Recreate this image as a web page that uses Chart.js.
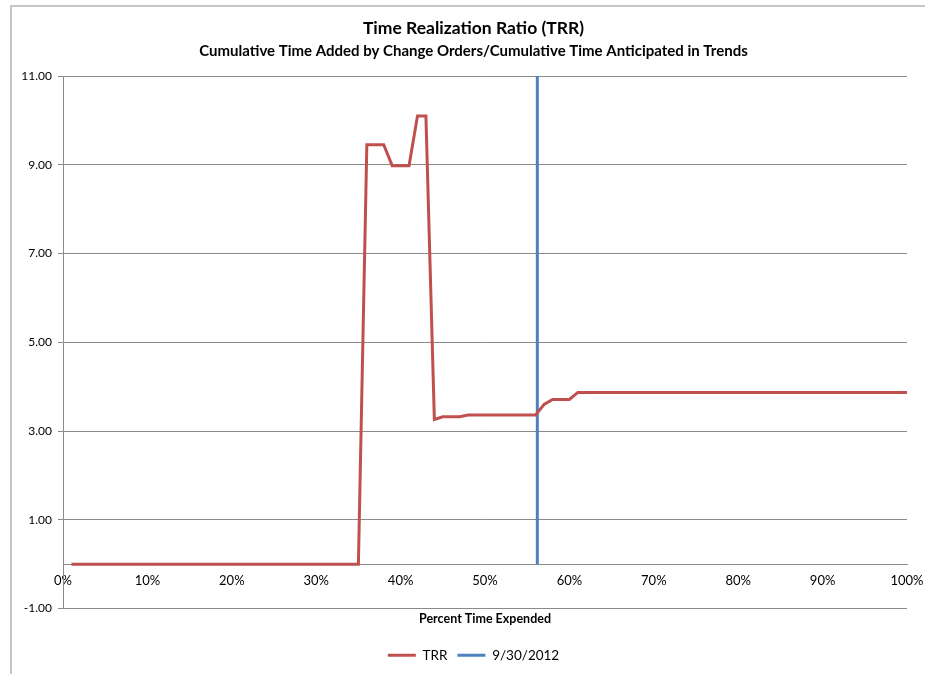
<!DOCTYPE html>
<html>
<head>
<meta charset="utf-8">
<script src="https://cdn.jsdelivr.net/npm/chart.js@4.4.0/dist/chart.umd.min.js"></script>
<style>
	html, body { margin: 0; padding: 0; background: #fff; overflow: hidden; }
	#frame {
		position: absolute; left: 10px; top: 5px; width: 940px; height: 700px;
		border-left: 2px solid #c6c6c6; border-top: 2px solid #c6c6c6;
	}
	#wrap { position: absolute; left: 0; top: 0; width: 925px; height: 674px; }
</style>
</head>
<body>
<div id="frame"></div>
<div id="wrap"><canvas id="trrchart"></canvas></div>
<script>
// percent of time expended (x) and TRR value at that point
var pctTime = [1, 35, 36, 38, 39, 41, 42, 43, 44, 45, 47, 48, 56, 57, 58, 60, 61, 100];
var trrValues = [0, 0, 9.45, 9.45, 8.98, 8.98, 10.1, 10.1, 3.26, 3.32, 3.32, 3.36, 3.36, 3.6, 3.71, 3.71, 3.87, 3.87];

// status date marker (9/30/2012)
var markerLabel = "9/30/2012";
var markerPct = [56.2, 56.2];
var markerY = [0, 11];

var yTicks = [-1, 1, 3, 5, 7, 9, 11];
var xTicks = [0, 10, 20, 30, 40, 50, 60, 70, 80, 90, 100];

var fontFam = "Lato, 'Open Sans', sans-serif";
var gridGray = "#8a8a8a";

function toPoints(xs, ys) {
	var pts = [];
	for (var i = 0; i < xs.length; i++) pts.push({ x: xs[i], y: ys[i] });
	return pts;
}

var trrChart = {
	type: 'line',
	data: {
		datasets: [
			{
				label: "TRR",
				data: toPoints(pctTime, trrValues),
				borderColor: "#c0504d",
				backgroundColor: "#c0504d",
				borderWidth: 3,
				pointRadius: 0,
				tension: 0,
			},
			{
				label: markerLabel,
				data: toPoints(markerPct, markerY),
				borderColor: "#4f81bd",
				backgroundColor: "#4f81bd",
				borderWidth: 3,
				pointRadius: 0,
			}
		]
	},
	options: {
		responsive: true,
		maintainAspectRatio: false,
		animation: false,
		// negative right padding + empty right axis: title/legend centre sits right of canvas centre like the original
		layout: { padding: { left: 0, right: -22, top: 0, bottom: 2 } },
		plugins: {
			title: {
				display: true,
				text: "Time Realization Ratio (TRR)",
				color: "#000",
				font: { family: fontFam, size: 17.5, weight: 'bold' },
				padding: { top: 17.5, bottom: 3.5 }
			},
			subtitle: {
				display: true,
				text: "Cumulative Time Added by Change Orders/Cumulative Time Anticipated in Trends",
				color: "#000",
				font: { family: fontFam, size: 15, weight: 'bold' },
				padding: { top: 0, bottom: 16 }
			},
			legend: {
				display: true,
				position: 'bottom',
				labels: {
					usePointStyle: true,
					pointStyle: 'line',
					pointStyleWidth: 28,
					color: "#000",
					font: { family: fontFam, size: 13.5 },
					padding: 10
				}
			},
			tooltip: { enabled: false }
		},
		scales: {
			x: {
				type: 'linear',
				position: { y: 0 },
				min: 0,
				max: 100,
				afterBuildTicks: function(scale) {
					scale.ticks = xTicks.map(function(v) { return { value: v }; });
				},
				grid: { display: false },
				border: { display: true, color: gridGray, width: 1 },
				ticks: {
					padding: 1,
					maxRotation: 0,
					autoSkip: false,
					color: "#000",
					font: { family: fontFam, size: 13 },
					callback: function(v) { return v + "%"; }
				}
			},
			x2: {
				type: 'linear',
				position: 'bottom',
				axis: 'x',
				min: 0,
				max: 100,
				grid: { display: false, drawTicks: false },
				border: { display: false },
				ticks: { display: false },
				title: {
					display: true,
					text: "Percent Time Expended",
					color: "#000",
					font: { family: fontFam, size: 12.5, weight: 'bold' },
					padding: { top: 3, bottom: 12 }
				}
			},
			y: {
				min: -1,
				max: 11,
				afterBuildTicks: function(scale) {
					scale.ticks = yTicks.map(function(v) { return { value: v }; });
				},
				afterFit: function(scale) { scale.width = 63; },
				grid: { color: gridGray, lineWidth: 1, drawTicks: true, tickLength: 5 },
				border: { display: true, color: gridGray, width: 1 },
				ticks: {
					padding: 6,
					color: "#000",
					font: { family: fontFam, size: 12 },
					callback: function(v) { return v.toFixed(2); }
				}
			},
			yRight: {
				position: 'right',
				axis: 'y',
				min: -1,
				max: 11,
				afterFit: function(scale) { scale.width = 40; },
				grid: { display: false, drawTicks: false },
				border: { display: false },
				ticks: { display: false }
			}
		}
	}
};

window.onload = function() {
	var ctx = document.getElementById("trrchart").getContext("2d");
	window.myLine = new Chart(ctx, trrChart);
};
</script>
</body>
</html>
